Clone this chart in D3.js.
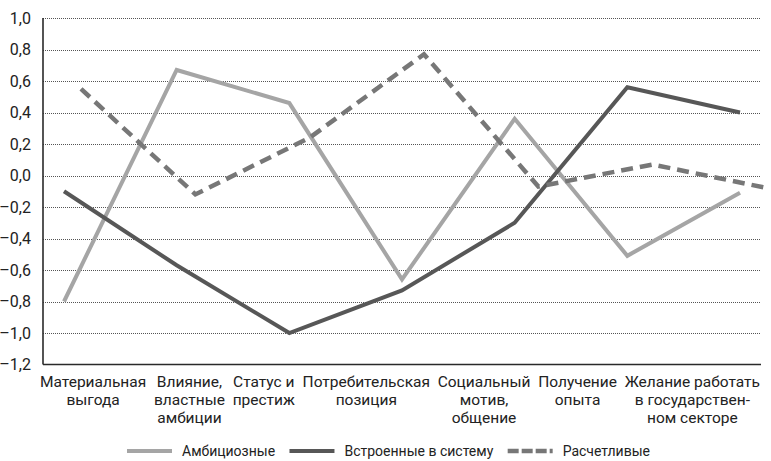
<!DOCTYPE html>
<html>
<head>
<meta charset="utf-8">
<script src="https://cdn.jsdelivr.net/npm/d3@7"></script>
<style>
  body { margin: 0; background: #fff; }
  svg { display: block; font-family: Roboto, "Open Sans", sans-serif; }
</style>
</head>
<body>
<div id="chart"></div>
<script>
const WIDTH = 771;
const HEIGHT = 461;

// категории (строки подписей)
const categories = ["Материальная выгода", "Влияние, властные амбиции", "Статус и престиж",
    "Потребительская позиция", "Социальный мотив, общение", "Получение опыта",
    "Желание работать в государственном секторе"];
const categoryLines = [
    ["Материальная", "выгода"],
    ["Влияние,", "властные", "амбиции"],
    ["Статус и", "престиж"],
    ["Потребительская", "позиция"],
    ["Социальный", "мотив,", "общение"],
    ["Получение", "опыта"],
    ["Желание работать", "в государствен-", "ном секторе"]
];

const seriesNames = ["Амбициозные", "Встроенные в систему", "Расчетливые"];
const ambitious = [-0.80, 0.67, 0.46, -0.66, 0.36, -0.51, -0.11];
const embedded = [-0.10, -0.57, -1.00, -0.73, -0.30, 0.56, 0.40];
const calculating = [0.55, -0.12, 0.24, 0.77, -0.07, 0.07, -0.08];

const yTicks = [-1.2, -1.0, -0.8, -0.6, -0.4, -0.2, 0.0, 0.2, 0.4, 0.6, 0.8, 1.0];

const margin = { left: 43, right: 10, top: 18, bottom: 96 };

const svg = d3.select("#chart").append("svg")
    .attr("width", WIDTH)
    .attr("height", HEIGHT);

const ruLocale = d3.formatLocale({ decimal: ",", thousands: " ", grouping: [3], currency: ["", ""], minus: "\u2013" });
const fmt = ruLocale.format(".1f");

const y = d3.scaleLinear()
    .domain([-1.2, 1.0])
    .range([HEIGHT - margin.bottom - 0.5, margin.top]);

const x = d3.scalePoint()
    .domain(categories)
    .range([64, 740]);

// пунктирная линия на исходном рисунке смещена вправо
const xDash = d3.scalePoint()
    .domain(categories)
    .range([81, 767]);

const plotRight = WIDTH - margin.right;

// сетка
svg.append("g")
    .selectAll("line")
    .data(yTicks.filter(t => t > -1.2))
    .join("line")
    .attr("x1", margin.left)
    .attr("x2", plotRight)
    .attr("y1", d => Math.round(y(d)) + 0.5)
    .attr("y2", d => Math.round(y(d)) + 0.5)
    .attr("stroke", "#555")
    .attr("stroke-width", 1)
    .attr("stroke-dasharray", "1,1");

// оси
svg.append("line")
    .attr("x1", margin.left).attr("x2", margin.left)
    .attr("y1", margin.top).attr("y2", y(-1.2))
    .attr("stroke", "#2a2a2a").attr("stroke-width", 1.6);
svg.append("line")
    .attr("x1", margin.left).attr("x2", plotRight)
    .attr("y1", y(-1.2)).attr("y2", y(-1.2))
    .attr("stroke", "#2a2a2a").attr("stroke-width", 1.6);

svg.append("g")
    .selectAll("text")
    .data(yTicks)
    .join("text")
    .attr("x", 31)
    .attr("y", d => y(d))
    .attr("dy", "0.36em")
    .attr("text-anchor", "end")
    .attr("font-size", 16)
    .attr("fill", "#222")
    .text(d => fmt(d));

// подписи категорий: равномерно между 40 и 760
const labelG = svg.append("g");
const labels = labelG.selectAll("text")
    .data(categoryLines)
    .join("text")
    .attr("text-anchor", "middle")
    .attr("font-size", 15.5)
    .attr("fill", "#222");
labels.selectAll("tspan")
    .data(d => d)
    .join("tspan")
    .attr("dy", (d, i) => i === 0 ? 0 : 18)
    .text(d => d);

const widths = [];
labels.each(function () {
    let w = 0;
    d3.select(this).selectAll("tspan").each(function () {
        w = Math.max(w, this.getComputedTextLength());
    });
    widths.push(w);
});
const gap = (760 - 40 - d3.sum(widths)) / (widths.length - 1);
let cursor = 40;
const centers = widths.map(w => {
    const c = cursor + w / 2;
    cursor += w + gap;
    return c;
});
labels.attr("y", 387)
    .each(function (d, i) {
        d3.select(this).selectAll("tspan").attr("x", centers[i]);
    });

// линии
const series = [
    { name: seriesNames[0], values: ambitious, color: "#a5a5a5", width: 4, dash: null, scale: x },
    { name: seriesNames[1], values: embedded, color: "#575757", width: 4, dash: null, scale: x },
    { name: seriesNames[2], values: calculating, color: "#777", width: 4.5, dash: "12,7", scale: xDash }
];

series.forEach(s => {
    const line = d3.line()
        .x((d, i) => s.scale(categories[i]))
        .y(d => y(d));
    svg.append("path")
        .datum(s.values)
        .attr("d", line)
        .attr("fill", "none")
        .attr("stroke", s.color)
        .attr("stroke-width", s.width)
        .attr("stroke-dasharray", s.dash);
});

// легенда: растянута между 127 и 650
const legend = svg.append("g");
const legendY = 451;
const items = legend.selectAll("g")
    .data(series)
    .join("g");
items.append("line")
    .attr("x1", 0).attr("x2", 45)
    .attr("y1", legendY).attr("y2", legendY)
    .attr("stroke", d => d.color)
    .attr("stroke-width", d => d.width)
    .attr("stroke-dasharray", d => d.dash ? "11,3" : null);
items.append("text")
    .attr("x", 55)
    .attr("y", legendY)
    .attr("dy", "0.36em")
    .attr("font-size", 14)
    .attr("fill", "#222")
    .text(d => d.name);

const itemWidths = [];
items.each(function () {
    itemWidths.push(55 + d3.select(this).select("text").node().getComputedTextLength());
});
const legendGap = Math.max(12, (650 - 127 - d3.sum(itemWidths)) / (itemWidths.length - 1));
let lx = 127;
const offsets = itemWidths.map(w => {
    const o = lx;
    lx += w + legendGap;
    return o;
});
items.attr("transform", (d, i) => `translate(${offsets[i]},0)`);
</script>
</body>
</html>
